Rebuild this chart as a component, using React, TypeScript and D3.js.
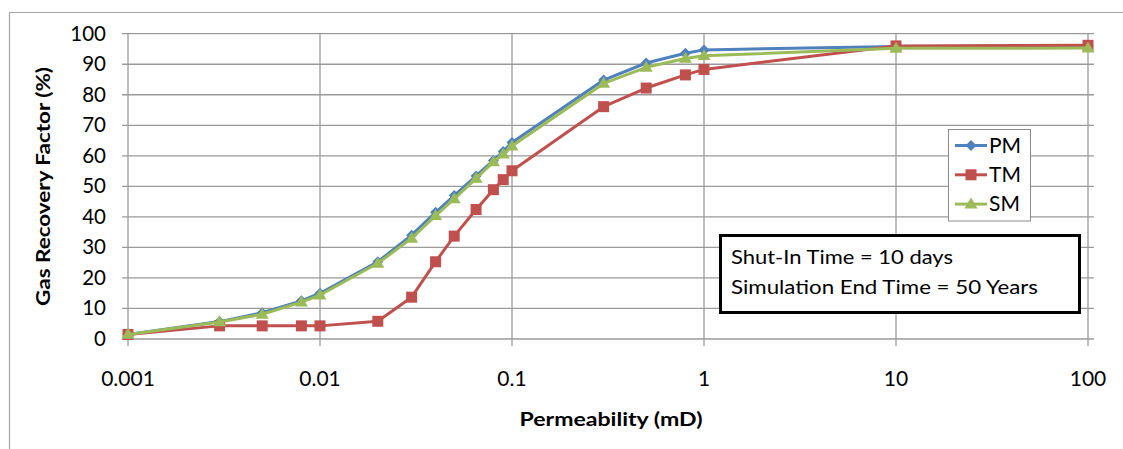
import React from 'react';
import * as d3 from 'd3';

const permeability = [0.001, 0.003, 0.005, 0.008, 0.01, 0.02, 0.03, 0.04, 0.05, 0.065, 0.08, 0.09, 0.1, 0.3, 0.5, 0.8, 1, 10, 100];
const pmValues = [1.5, 5.7, 8.6, 12.5, 15.0, 25.3, 34.0, 41.5, 47.0, 53.4, 58.5, 61.4, 64.4, 84.8, 90.4, 93.6, 94.7, 95.8, 95.9];
const tmValues = [1.5, 4.3, 4.3, 4.3, 4.3, 5.8, 13.7, 25.3, 33.7, 42.4, 48.9, 52.2, 55.1, 76.1, 82.2, 86.5, 88.3, 96.0, 96.2];
const smValues = [1.5, 5.6, 8.1, 12.1, 14.4, 24.8, 33.0, 40.4, 45.9, 52.6, 58.0, 60.6, 63.2, 83.7, 89.0, 91.9, 92.8, 95.2, 95.3];

const seriesNames = ['PM', 'TM', 'SM'];
const xTicks = [0.001, 0.01, 0.1, 1, 10, 100];
const xTickLabels = ['0.001', '0.01', '0.1', '1', '10', '100'];
const yTicks = [0, 10, 20, 30, 40, 50, 60, 70, 80, 90, 100];
const xTitle = 'Permeability (mD)';
const yTitle = 'Gas Recovery Factor (%)';
const noteLines = ['Shut-In Time = 10 days', 'Simulation End Time = 50 Years'];

const colors = ['#4F81BD', '#C0504D', '#9BBB59'];
const FONT = 'Lato, "Open Sans", sans-serif';

function marker(kind: string, cx: number, cy: number, color: string, key: string) {
  if (kind === 'diamond') {
    const r = 5.5;
    return <path key={key} d={`M${cx},${cy - r}L${cx + r},${cy}L${cx},${cy + r}L${cx - r},${cy}Z`} fill={color} />;
  }
  if (kind === 'square') {
    const s = 11;
    return <rect key={key} x={cx - s / 2} y={cy - s / 2} width={s} height={s} fill={color} />;
  }
  const h = 11, w = 13;
  return <path key={key} d={`M${cx},${cy - h * 0.6}L${cx + w / 2},${cy + h * 0.4}L${cx - w / 2},${cy + h * 0.4}Z`} fill={color} />;
}

export default function App() {
  const x = d3.scaleLog().domain([0.001, 100]).range([128, 1088]);
  const y = d3.scaleLinear().domain([0, 100]).range([339, 33.7]);
  const allSeries = [pmValues, tmValues, smValues];
  const kinds = ['diamond', 'square', 'triangle'];
  const line = d3.line<number>().x((_, i) => x(permeability[i])).y((d) => y(d));

  return (
    <svg width={1123} height={449} style={{ position: 'absolute', left: 0, top: 0, background: '#fff' }} fontFamily={FONT}>
      <rect x={0} y={0} width={1123} height={449} fill="#fff" />
      {/* outer frame */}
      <path d="M9.5,449V12.5H1123" fill="none" stroke="#a6a6a6" strokeWidth={1.2} />
      {/* horizontal gridlines */}
      {yTicks.map((t) => (
        <line key={'h' + t} x1={122} x2={1094} y1={y(t)} y2={y(t)} stroke="#9a9a9a" strokeWidth={1.3} />
      ))}
      {/* vertical gridlines */}
      {xTicks.map((t) => (
        <line key={'v' + t} x1={x(t)} x2={x(t)} y1={y(100)} y2={y(0) + 7} stroke="#9a9a9a" strokeWidth={1.3} />
      ))}
      {/* y tick labels */}
      {yTicks.map((t) => (
        <text key={'yl' + t} x={106} y={y(t) + 7} textAnchor="end" fontSize={20.5} fill="#000">{t}</text>
      ))}
      {/* x tick labels */}
      {xTicks.map((t, i) => (
        <text key={'xl' + t} x={x(t)} y={386} textAnchor="middle" fontSize={21} fill="#000">{xTickLabels[i]}</text>
      ))}
      {/* axis titles */}
      <text x={611} y={425.5} textAnchor="middle" fontSize={19.5} fontWeight="bold" fill="#000" textLength={183} lengthAdjust="spacingAndGlyphs">{xTitle}</text>
      <text transform="translate(50,186.5) rotate(-90)" textAnchor="middle" fontSize={19.5} fontWeight="bold" fill="#000" textLength={239} lengthAdjust="spacingAndGlyphs">{yTitle}</text>
      {/* series */}
      {allSeries.map((vals, si) => (
        <g key={'s' + si}>
          <path d={line(vals) || ''} fill="none" stroke={colors[si]} strokeWidth={3} strokeLinejoin="round" />
          {vals.map((v, i) => marker(kinds[si], x(permeability[i]), y(v), colors[si], `m${si}-${i}`))}
        </g>
      ))}
      {/* legend */}
      <rect x={948.5} y={129.5} width={82} height={91.5} fill="#fff" stroke="#8c8c8c" strokeWidth={1} />
      {seriesNames.map((n, i) => {
        const ly = 145.5 + i * 29.3;
        return (
          <g key={'lg' + n}>
            <line x1={955} x2={987} y1={ly} y2={ly} stroke={colors[i]} strokeWidth={3} />
            {marker(kinds[i], 971, ly, colors[i], 'lm' + i)}
            <text x={989} y={ly + 7} fontSize={21} fill="#000">{n}</text>
          </g>
        );
      })}
      {/* note box */}
      <rect x={720.5} y={235.5} width={359} height={77} fill="#fff" stroke="#000" strokeWidth={3} />
      <text x={731} y={264} fontSize={19.5} fill="#000" textLength={222} lengthAdjust="spacingAndGlyphs">{noteLines[0]}</text>
      <text x={731} y={293.5} fontSize={19.5} fill="#000" textLength={307} lengthAdjust="spacingAndGlyphs">{noteLines[1]}</text>
    </svg>
  );
}
